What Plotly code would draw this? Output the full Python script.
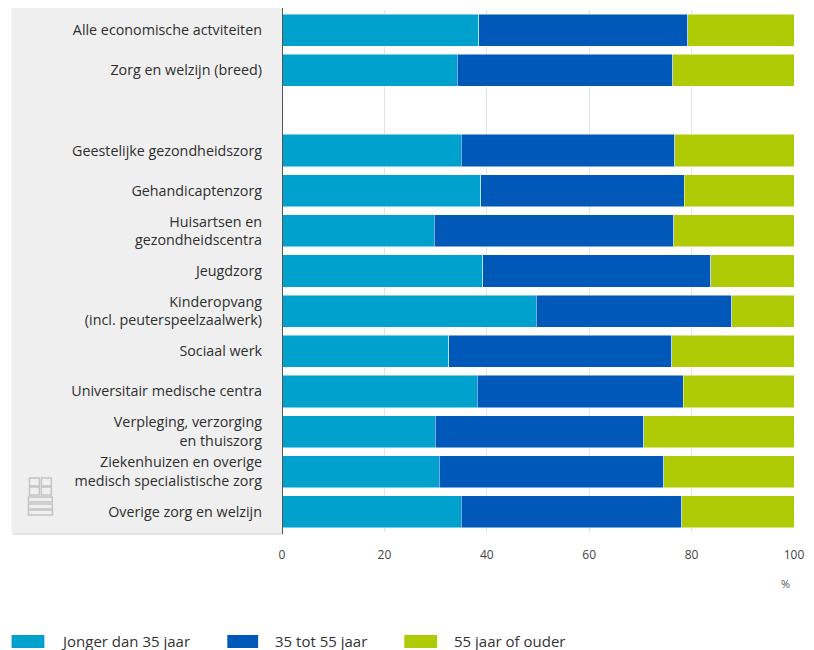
import plotly.graph_objects as go

categories = [
    "Alle economische actviteiten",
    "Zorg en welzijn (breed)",
    " ",
    "Geestelijke gezondheidszorg",
    "Gehandicaptenzorg",
    "Huisartsen en<br>gezondheidscentra",
    "Jeugdzorg",
    "Kinderopvang<br>(incl. peuterspeelzaalwerk)",
    "Sociaal werk",
    "Universitair medische centra",
    "Verpleging, verzorging<br>en thuiszorg",
    "Ziekenhuizen en overige<br>medisch specialistische zorg",
    "Overige zorg en welzijn",
]
jonger_35 = [38.4, 34.2, None, 35.0, 38.8, 29.7, 39.2, 49.7, 32.6, 38.1, 29.9, 30.7, 35.0]
tot_55 = [40.8, 42.1, None, 41.7, 39.8, 46.8, 44.5, 38.1, 43.5, 40.3, 40.8, 43.9, 43.1]
ouder_55 = [20.8, 23.7, None, 23.3, 21.4, 23.5, 16.3, 12.2, 23.9, 21.6, 29.3, 25.4, 21.9]
series_names = ["Jonger dan 35 jaar", "35 tot 55 jaar", "55 jaar of ouder"]
series_colors = ["#00a1cd", "#0058b8", "#afcb05"]
x_ticks = [0, 20, 40, 60, 80, 100]

W, H = 814, 650
L, R, T, B = 282, 17, 10, 118
pw, ph = W - L - R, H - T - B

def px_x(p):
    return (p - L) / pw

def px_y(p):
    return (H - B - p) / ph

fig = go.Figure()
for name, vals, col in zip(series_names, [jonger_35, tot_55, ouder_55], series_colors):
    fig.add_trace(go.Bar(
        y=categories, x=vals, name=name, orientation="h",
        marker=dict(color=col, line=dict(color="rgba(255,255,255,0.6)", width=0.8)),
        showlegend=False, hoverinfo="x+name",
    ))

shapes = [
    # grey label panel with faint shadow
    dict(type="rect", xref="paper", yref="paper", x0=px_x(11), x1=px_x(283),
         y0=px_y(535), y1=px_y(9), fillcolor="#e4e4e4", line=dict(width=0), layer="below"),
    dict(type="rect", xref="paper", yref="paper", x0=px_x(10), x1=px_x(282),
         y0=px_y(533), y1=px_y(8), fillcolor="#efefef", line=dict(width=0), layer="below"),
    # axis line
    dict(type="line", xref="x", yref="paper", x0=0, x1=0, y0=px_y(534), y1=px_y(8),
         line=dict(color="#555555", width=2)),
]

# CBS logo (approximation)
lg = "#c4c4c4"
logo_rects = [
    (28, 478, 38, 486), (40, 478, 50, 486),
    (28, 487, 38, 495), (40, 487, 50, 495),
    (27, 497, 51, 502), (27, 504, 51, 509), (27, 510, 51, 515),
]
for x0, y0, x1, y1 in logo_rects:
    shapes.append(dict(type="rect", xref="paper", yref="paper",
                       x0=px_x(x0), x1=px_x(x1), y0=px_y(y1), y1=px_y(y0),
                       line=dict(color=lg, width=1.5), fillcolor="rgba(0,0,0,0)"))

annotations = [
    dict(text="%", x=100, xref="x", y=px_y(583), yref="paper", showarrow=False,
         xanchor="right", yanchor="middle", font=dict(size=11, color="#555555"), xshift=-2),
]

# manual legend
leg_rects = [(10, 43), (227, 258), (405, 438)]
leg_text_x = [58, 273, 453]
for (x0, x1), tx, name, col in zip(leg_rects, leg_text_x, series_names, series_colors):
    shapes.append(dict(type="rect", xref="paper", yref="paper",
                       x0=px_x(x0), x1=px_x(x1), y0=px_y(648), y1=px_y(635),
                       fillcolor=col, line=dict(width=0)))
    annotations.append(dict(text=name, x=px_x(tx), xref="paper", y=px_y(641), yref="paper",
                            showarrow=False, xanchor="left", yanchor="middle",
                            font=dict(size=15, color="#333333")))

fig.update_layout(
    width=W, height=H,
    margin=dict(l=L, r=R, t=T, b=B, pad=0),
    barmode="stack", bargap=0.2,
    paper_bgcolor="white", plot_bgcolor="white",
    font=dict(family="Open Sans", size=12, color="#333333"),
    shapes=shapes, annotations=annotations,
    xaxis=dict(range=[0, 100], tickvals=x_ticks, ticktext=[str(v) for v in x_ticks],
               showgrid=True, gridcolor="#e3e3e3", gridwidth=1, zeroline=False,
               ticks="outside", ticklen=12, tickcolor="rgba(0,0,0,0)",
               tickfont=dict(size=12, color="#444444"), showline=False, fixedrange=True),
    yaxis=dict(autorange="reversed", categoryorder="array", categoryarray=categories,
               showgrid=False, zeroline=False, showline=False, ticks="",
               ticklabelstandoff=19, tickfont=dict(size=14.3, color="#2e2e2e"),
               fixedrange=True),
)

fig.write_html("out.html", config={"displayModeBar": False},
               post_script="document.body.style.margin='0px';document.body.style.overflow='hidden';")
